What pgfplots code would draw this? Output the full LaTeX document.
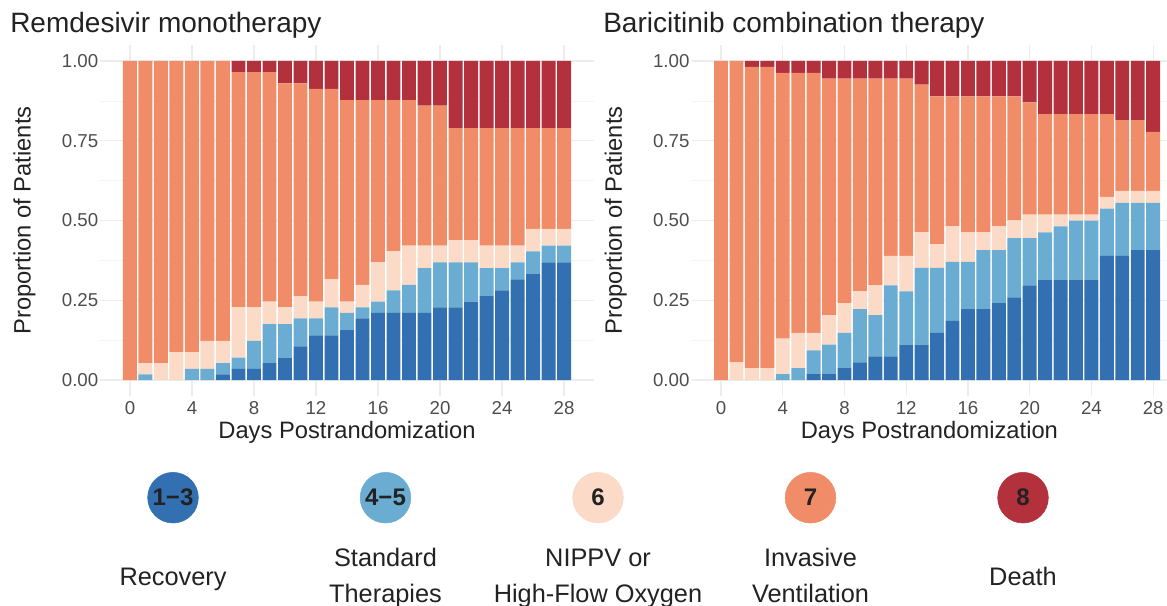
\documentclass[border=0pt]{standalone}
\usepackage{fontspec}
\setmainfont{Liberation Sans}
\usepackage{pgfplots}
\usepackage{pgfplotstable}
\pgfplotsset{compat=1.18}

\definecolor{recov}{HTML}{3370B2}
\definecolor{stdth}{HTML}{6BACD2}
\definecolor{nippv}{HTML}{FBDAC7}
\definecolor{invas}{HTML}{F08C68}
\definecolor{death}{HTML}{B3303D}
\definecolor{tickgray}{HTML}{4D4D4D}
\definecolor{txt}{HTML}{222222}

% patients per ordinal state (a=1-3, b=4-5, c=6, d=7, e=8), n = 57
\pgfplotstableread{
day a b c d e
0  0 0 0 57 0
1  0 1 2 54 0
2  0 0 3 54 0
3  0 0 5 52 0
4  0 2 3 52 0
5  0 2 5 50 0
6  1 2 4 50 0
7  2 2 9 42 2
8  2 5 6 42 2
9  3 7 4 41 2
10 4 6 3 40 4
11 6 5 4 38 4
12 8 3 3 38 5
13 8 5 5 34 5
14 9 3 2 36 7
15 11 2 4 33 7
16 12 2 7 29 7
17 12 4 7 27 7
18 12 5 7 26 7
19 12 8 4 25 8
20 13 8 3 25 8
21 13 8 4 20 12
22 14 7 4 20 12
23 15 5 4 21 12
24 16 4 4 21 12
25 18 3 3 21 12
26 19 4 4 18 12
27 21 3 3 18 12
28 21 3 3 18 12
}\remd

% same states, n = 54
\pgfplotstableread{
day a b c d e
0  0 0 0 54 0
1  0 0 3 51 0
2  0 0 2 51 1
3  0 0 2 51 1
4  0 1 6 45 2
5  0 2 6 44 2
6  1 4 3 44 2
7  1 5 5 40 3
8  2 6 5 38 3
9  3 9 3 36 3
10 4 7 5 35 3
11 4 12 5 30 3
12 6 9 6 30 3
13 6 13 6 25 4
14 8 11 4 25 6
15 10 10 6 22 6
16 12 8 5 23 6
17 12 10 3 23 6
18 13 9 4 22 6
19 14 10 3 21 6
20 16 8 4 19 7
21 17 8 3 17 9
22 17 9 2 17 9
23 17 10 1 17 9
24 17 10 1 17 9
25 21 8 2 14 9
26 21 9 2 12 10
27 22 8 2 12 10
28 22 8 2 10 12
}\bari

\pgfplotsset{
  panel/.style={
    scale only axis,
    height=263.25pt,
    ybar stacked,
    bar width=0.9,
    ymin=-0.05, ymax=1.05,
    ytick={0,0.25,0.5,0.75,1},
    yticklabels={0.00,0.25,0.50,0.75,1.00},
    minor ytick={0.125,0.375,0.625,0.875},
    xtick={0,4,...,28},
    grid=both,
    major grid style={color=gray!14, line width=0.9pt},
    minor grid style={color=gray!9, line width=0.5pt},
    axis line style={draw=none},
    major tick length=0pt, minor tick length=0pt,
    ticklabel style={font=\fontsize{14}{16}\selectfont, text=tickgray},
    yticklabel style={inner sep=1.5pt},
    xticklabel style={inner sep=4pt},
    /pgf/number format/assume math mode=true,
    xlabel={Days Postrandomization},
    ylabel={Proportion of Patients},
    label style={font=\fontsize{17.8}{20}\selectfont, text=txt},
    xlabel style={inner sep=0pt},
    ylabel style={inner sep=0pt},
    xlabel shift=1pt,
    ylabel shift=18pt,
    every axis plot/.append style={draw=none},
  }
}

\begin{document}
\begin{tikzpicture}
\useasboundingbox (0pt,0pt) rectangle (875.25pt,454.5pt);

% ---- left panel
\begin{axis}[panel, at={(75.375pt,157.5pt)}, anchor=south west,
  width=369.75pt, xmin=-1.9, xmax=29.9]
  \addplot[fill=recov] table[x=day, y expr=\thisrow{a}/57] {\remd};
  \addplot[fill=stdth] table[x=day, y expr=\thisrow{b}/57] {\remd};
  \addplot[fill=nippv] table[x=day, y expr=\thisrow{c}/57] {\remd};
  \addplot[fill=invas] table[x=day, y expr=\thisrow{d}/57] {\remd};
  \addplot[fill=death] table[x=day, y expr=\thisrow{e}/57] {\remd};
\end{axis}
\node[anchor=base west, font=\fontsize{21}{25}\selectfont, text=txt, inner sep=0pt]
  at (7.5pt,429.75pt) {Remdesivir monotherapy};

% ---- right panel
\begin{axis}[panel, at={(518.775pt,157.5pt)}, anchor=south west,
  width=356.5pt, xmin=-1.9, xmax=28.9]
  \addplot[fill=recov] table[x=day, y expr=\thisrow{a}/54] {\bari};
  \addplot[fill=stdth] table[x=day, y expr=\thisrow{b}/54] {\bari};
  \addplot[fill=nippv] table[x=day, y expr=\thisrow{c}/54] {\bari};
  \addplot[fill=invas] table[x=day, y expr=\thisrow{d}/54] {\bari};
  \addplot[fill=death] table[x=day, y expr=\thisrow{e}/54] {\bari};
\end{axis}
\node[anchor=base west, font=\fontsize{21}{25}\selectfont, text=txt, inner sep=0pt]
  at (452.25pt,429.75pt) {Baricitinib combination therapy};

% ---- legend row
\begin{axis}[at={(129.75pt,21.75pt)}, anchor=south west, scale only axis,
  width=637.5pt, height=57.75pt, xmin=0, xmax=4, ymin=0, ymax=1,
  hide axis, clip=false]
  \addplot[only marks, mark=*, mark size=19pt, color=recov] coordinates {(0,1.03)};
  \addplot[only marks, mark=*, mark size=19pt, color=stdth] coordinates {(1,1.03)};
  \addplot[only marks, mark=*, mark size=19pt, color=nippv] coordinates {(2,1.03)};
  \addplot[only marks, mark=*, mark size=19pt, color=invas] coordinates {(3,1.03)};
  \addplot[only marks, mark=*, mark size=19pt, color=death] coordinates {(4,1.03)};
  \coordinate (k0) at (axis cs:0,1.03);
  \coordinate (k1) at (axis cs:1,1.03);
  \coordinate (k2) at (axis cs:2,1.03);
  \coordinate (k3) at (axis cs:3,1.03);
  \coordinate (k4) at (axis cs:4,1.03);
  \begin{scope}[every node/.style={font=\fontsize{19}{27}\selectfont, text=txt, align=center}]
    \node at (axis cs:0,-0.02) {Recovery\strut};
    \node at (axis cs:1,0) {Standard\strut\\Therapies\strut};
    \node at (axis cs:2,0) {NIPPV or\strut\\High-Flow Oxygen\strut};
    \node at (axis cs:3,0) {Invasive\strut\\Ventilation\strut};
    \node at (axis cs:4,-0.02) {Death\strut};
  \end{scope}
\end{axis}
\begin{scope}[every node/.style={font=\fontsize{18}{20}\selectfont\bfseries, text=txt}]
  \node at (k0) {1−3};
  \node at (k1) {4−5};
  \node at (k2) {6};
  \node at (k3) {7};
  \node at (k4) {8};
\end{scope}
\end{tikzpicture}
\end{document}
